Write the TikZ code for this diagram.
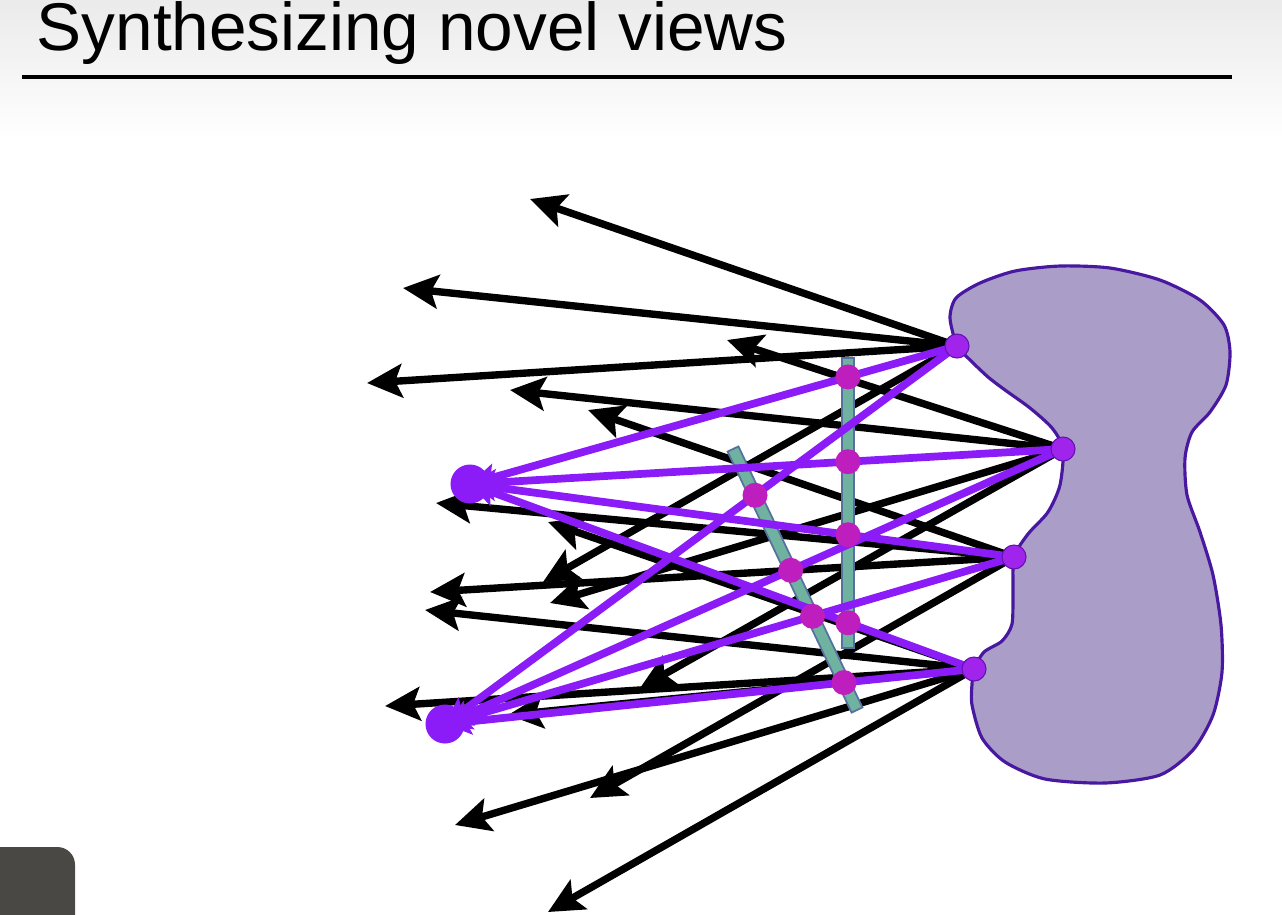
\documentclass[tikz,border=0pt]{standalone}
\usepackage{fontspec}
\setsansfont{Liberation Sans}
\usepackage{tikz}
\usetikzlibrary{arrows.meta,calc,backgrounds}

\definecolor{raypurple}{RGB}{139,28,247}
\definecolor{ptpurple}{RGB}{160,36,236}
\definecolor{hitmagenta}{RGB}{190,30,190}
\definecolor{barteal}{RGB}{112,178,160}
\definecolor{baredge}{RGB}{88,112,160}
\definecolor{blobfill}{RGB}{170,158,200}
\definecolor{blobedge}{RGB}{72,24,160}
\definecolor{videogray}{RGB}{74,72,68}

\tikzset{
  ray/.style={draw=black, line width=2.1pt, -{Stealth[length=10pt,width=9.5pt,inset=2pt]}},
  sight/.style={draw=raypurple, line width=2.2pt, -{Stealth[length=7.5pt,width=7.5pt,inset=1.5pt]}},
  camdot/.style={circle, fill=raypurple, minimum size=0.39cm, inner sep=0pt},
  surfdot/.style={circle, fill=ptpurple, draw=raypurple!70!black, line width=0.3pt, minimum size=0.24cm, inner sep=0pt},
  hitdot/.style={circle, fill=hitmagenta, minimum size=0.25cm, inner sep=0pt},
  panelbar/.style={fill=barteal, draw=baredge, line width=0.5pt},
  blob/.style={fill=blobfill, draw=blobedge, line width=0.9pt},
  slidetitle/.style={font=\sffamily\fontsize{19.2}{23}\selectfont, anchor=base west, inner sep=0pt},
}
\newcommand{\drawpanel}[2]{%
  \filldraw[panelbar] ($(#1)!0.06cm!90:(#2)$) -- ($(#1)!0.06cm!-90:(#2)$)
    -- ($(#2)!0.06cm!90:(#1)$) -- ($(#2)!0.06cm!-90:(#1)$) -- cycle;}

\begin{document}
\begin{tikzpicture}[x=0.01cm, y=-0.01cm]
  \useasboundingbox (0,0) rectangle (1282,914);

  % points on the object and the two cameras
  \node (p1) [surfdot] at (957,346) {};
  \node (p2) [surfdot] at (1063,449) {};
  \node (p3) [surfdot] at (1014,557) {};
  \node (p4) [surfdot] at (974,669) {};
  \node (c1) [camdot] at (470,484) {};
  \node (c2) [camdot] at (445,724) {};

  % the two planes
  \coordinate (vtop) at (848,358); \coordinate (vbot) at (848,648);
  \coordinate (ttop) at (733,449); \coordinate (tbot) at (857,710);

  % where the camera rays cross the planes
  \node (h1) [hitdot] at (intersection of c1.center--p1.center and vtop--vbot) {};
  \node (h2) [hitdot] at (intersection of c1.center--p2.center and vtop--vbot) {};
  \node (h3) [hitdot] at (intersection of c1.center--p3.center and vtop--vbot) {};
  \node (h4) [hitdot] at (intersection of c1.center--p4.center and vtop--vbot) {};
  \node (k1) [hitdot] at (intersection of c2.center--p1.center and ttop--tbot) {};
  \node (k2) [hitdot] at (intersection of c2.center--p2.center and ttop--tbot) {};
  \node (k3) [hitdot] at (intersection of c2.center--p3.center and ttop--tbot) {};
  \node (k4) [hitdot] at (intersection of c2.center--p4.center and ttop--tbot) {};

  % free ends of the black rays
  \coordinate (r1a) at (530,199); \coordinate (r1b) at (403,288);
  \coordinate (r1c) at (367,383); \coordinate (r1d) at (543,582);
  \coordinate (r2a) at (727,340); \coordinate (r2b) at (510,390);
  \coordinate (r2c) at (550,603); \coordinate (r2d) at (640,688);
  \coordinate (r3a) at (588,410); \coordinate (r3b) at (436,503);
  \coordinate (r3c) at (430,592); \coordinate (r3d) at (590,798);
  \coordinate (r4a) at (548,522); \coordinate (r4b) at (425,610);
  \coordinate (r4c) at (385,706); \coordinate (r4d) at (455,825);
  \coordinate (r4e) at (548,912); \coordinate (r4f) at (508,715);

  \node (title) [slidetitle] at (36,50) {Synthesizing novel views};
  \fill[videogray, rounded corners=5pt] (-20,847) rectangle (75,940);

  \begin{scope}[on background layer]
    \shade[top color=gray!16, bottom color=white] (0,0) rectangle (1282,140);
    \draw[line width=1.1pt] (22,77) -- (1232,77);
    \draw[blob] plot[smooth cycle, tension=0.45] coordinates {
      (957,346) (950,318) (956,298) (980,283) (1015,271) (1060,266) (1110,268)
      (1160,280) (1200,300) (1224,325) (1230,352) (1226,385) (1210,412)
      (1192,432) (1185,458) (1187,495) (1200,532) (1213,575) (1221,625)
      (1222,672) (1213,715) (1193,750) (1160,775) (1105,783) (1045,779)
      (1005,762) (982,738) (972,705) (972,684) (974,669) (984,652) (1002,641)
      (1012,624) (1013,590) (1014,557) (1028,534) (1048,512) (1060,485)
      (1063,449) (1052,428) (1030,408) (1005,390) (988,377) (968,358)};

    \draw[ray] (p1.center) -- (r1a); \draw[ray] (p1.center) -- (r1b);
    \draw[ray] (p1.center) -- (r1c); \draw[ray] (p1.center) -- (r1d);
    \draw[ray] (p2.center) -- (r2a); \draw[ray] (p2.center) -- (r2b);
    \draw[ray] (p2.center) -- (r2c); \draw[ray] (p2.center) -- (r2d);
    \draw[ray] (p3.center) -- (r3a); \draw[ray] (p3.center) -- (r3b);
    \draw[ray] (p3.center) -- (r3c); \draw[ray] (p3.center) -- (r3d);
    \draw[ray] (p4.center) -- (r4a); \draw[ray] (p4.center) -- (r4b);
    \draw[ray] (p4.center) -- (r4c); \draw[ray] (p4.center) -- (r4d);
    \draw[ray] (p4.center) -- (r4e); \draw[ray] (p4.center) -- (r4f);

    \drawpanel{vtop}{vbot}
    \drawpanel{ttop}{tbot}

    \draw[sight] (p1.center) -- (c1.center); \draw[sight] (p2.center) -- (c1.center);
    \draw[sight] (p3.center) -- (c1.center); \draw[sight] (p4.center) -- (c1.center);
    \draw[sight] (p1.center) -- (c2.center); \draw[sight] (p2.center) -- (c2.center);
    \draw[sight] (p3.center) -- (c2.center); \draw[sight] (p4.center) -- (c2.center);
  \end{scope}
\end{tikzpicture}
\end{document}
